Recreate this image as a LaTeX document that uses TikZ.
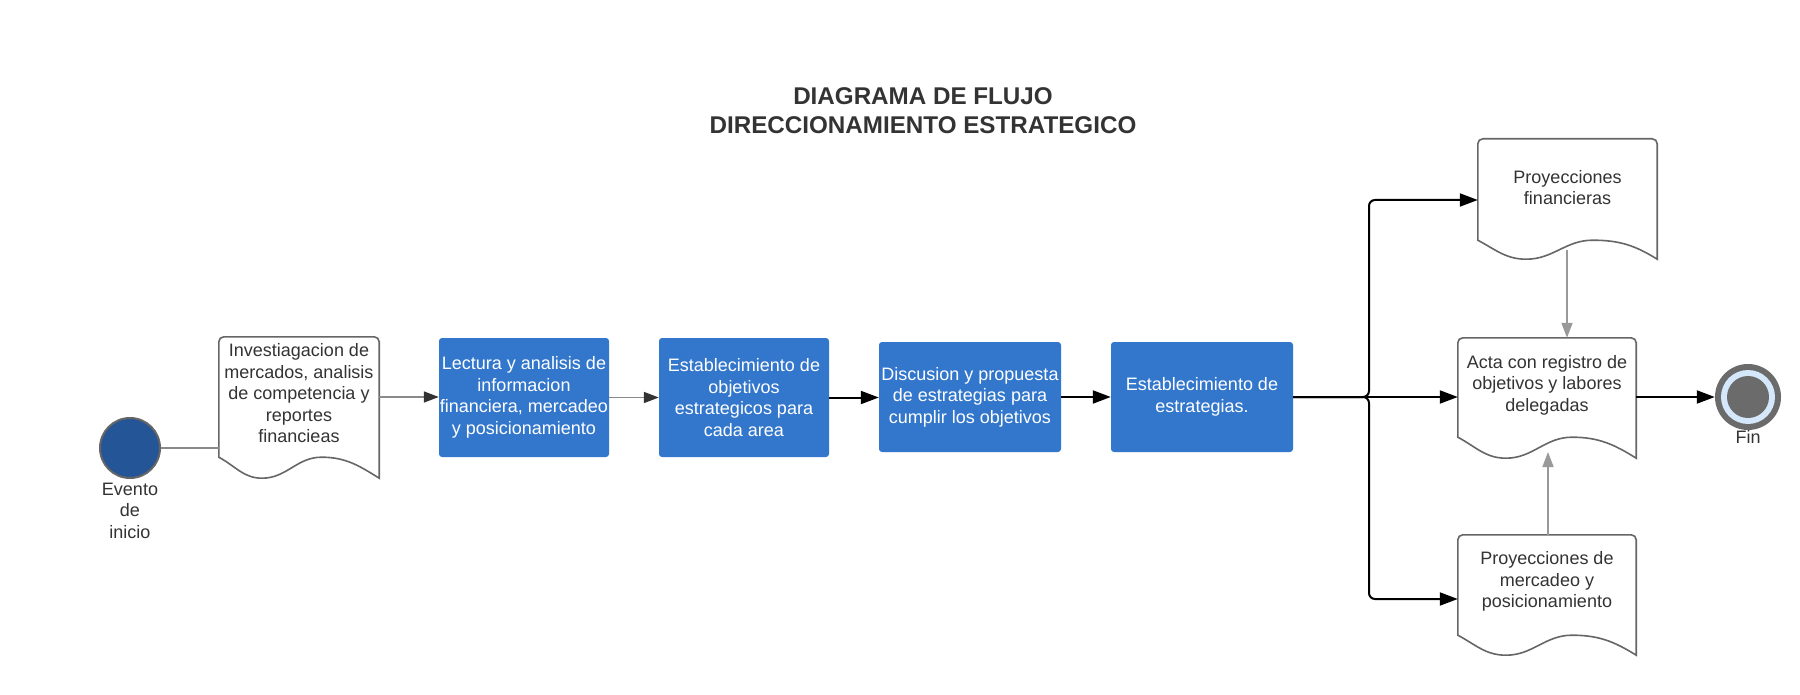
\documentclass[tikz,border=0pt]{standalone}
\usepackage{fontspec}
\setmainfont{Liberation Sans}
\usetikzlibrary{arrows.meta,calc}
\definecolor{boxblue}{HTML}{3377CC}
\definecolor{startblue}{HTML}{245597}
\definecolor{docgray}{HTML}{666666}
\definecolor{linegray}{HTML}{8A8A8A}
\definecolor{tipgray}{HTML}{333333}
\definecolor{txt}{HTML}{333333}
\definecolor{ringgray}{HTML}{6B6B6B}
\definecolor{ringblue}{HTML}{D5E7FB}
\definecolor{uparrow}{HTML}{999999}
\tikzset{
  basefont/.style={font=\fontsize{18}{21.5}\selectfont},
  procbox/.style={basefont, rectangle, rounded corners=3pt, fill=boxblue, text=white,
    align=center, inner sep=0pt},
  docnode/.style={basefont, rectangle, text=txt, align=center, inner sep=0pt},
  docline/.style={draw=docgray, line width=1.6pt, fill=white},
  grayconn/.style={draw=linegray, line width=1.6pt,
    -{Triangle[length=15pt,width=11pt,fill=tipgray,color=tipgray]}},
  blackconn/.style={draw=black, line width=2pt,
    -{Triangle[length=18pt,width=13pt]}},
  upconn/.style={draw=uparrow, line width=1.6pt,
    -{Triangle[length=15pt,width=11pt]}},
  lbl/.style={basefont, text=txt, align=center, inner sep=0pt},
}
\newcommand\docshape[2]{% node name, wave amplitude
  \path[docline] (#1.south west) [rounded corners=5pt] -- (#1.north west) -- (#1.north east)
    [sharp corners] -- ($(#1.south east)+(0,#2)$)
    to[out=148,in=0] ($(#1.south west)!0.64!(#1.south east)$)
    to[out=180,in=0] ($(#1.south west)!0.27!(#1.south east)+(0,#2)$)
    to[out=180,in=-28] (#1.south west) -- cycle;
}
\begin{document}
\begin{tikzpicture}[x=1pt,y=-1pt]
\useasboundingbox[fill=white] (0,0) rectangle (1800,695);

% title
\node[font=\bfseries\fontsize{24.2}{29}\selectfont, text=txt, align=center] (title) at (923,110.5)
  {DIAGRAMA DE FLUJO\\DIRECCIONAMIENTO ESTRATEGICO};

% start event
\node[circle, minimum size=60pt, inner sep=0pt, fill=startblue, draw=docgray, line width=2pt] (start) at (130,448) {};
\node[lbl] (startlbl) at (130,510.5) {Evento\\de\\inicio};

% document 1
\node[docnode, minimum width=160pt, minimum height=120pt] (d1) at (299,397) {};
\docshape{d1}{21}
\node[lbl] (d1t) at (299,393.5) {Investiagacion de\\mercados, analisis\\de competencia y\\reportes\\financieas};

% process boxes
\node[procbox, minimum width=170pt, minimum height=119pt] (b1) at (524,397.5)
  {Lectura y analisis de\\informacion\\financiera, mercadeo\\y posicionamiento};
\node[procbox, minimum width=170pt, minimum height=119pt] (b2) at (744,397.5)
  {Establecimiento de\\objetivos\\estrategicos para\\cada area};
\node[procbox, minimum width=182pt, minimum height=110pt] (b3) at (970,397)
  {Discusion y propuesta\\de estrategias para\\cumplir los objetivos};
\node[procbox, minimum width=182pt, minimum height=110pt] (b4) at (1202,397)
  {Establecimiento de\\estrategias.};

% right documents
\node[docnode, minimum width=179pt, minimum height=101pt] (pf) at (1567.5,189.5) {};
\docshape{pf}{19}
\node[lbl] (pft) at (1567.5,187.5) {Proyecciones\\financieras};

\node[docnode, minimum width=178pt, minimum height=99pt] (acta) at (1547,387.5) {};
\docshape{acta}{21}
\node[lbl] (actat) at (1547,385) {Acta con registro de\\objetivos y labores\\delegadas};

\node[docnode, minimum width=178pt, minimum height=100pt] (pm) at (1547,585) {};
\docshape{pm}{20}
\node[lbl] (pmt) at (1547,581.5) {Proyecciones de\\mercadeo y\\posicionamiento};

% end event
\node[circle, minimum size=66pt, inner sep=0pt, fill=ringgray] (fin) at (1748,397) {};
\fill[ringblue] (fin.center) circle (27);
\fill[ringgray] (fin.center) circle (21);
\node[lbl] (finlbl) at (1748,437) {Fin};

% connectors
\draw[draw=linegray, line width=1.6pt] (start.east) -- (start.east -| d1.west);
\draw[grayconn] (d1.east) -- (d1.east -| b1.west);
\draw[grayconn] (b1.east) -- (b2.west);
\draw[blackconn] (b2.east) -- (b2.east -| b3.west);
\draw[blackconn] (b3.east) -- (b4.west);
\draw[blackconn] (b4.east) -- (b4.east -| acta.west);
\coordinate (split) at (1369,397);
\coordinate (pfin) at ($(pf.west)+(0,10.5)$);
\coordinate (pmin) at ($(pm.west)+(0,14)$);
\draw[blackconn, rounded corners=6pt] (b4.east) -- (split) |- (pfin);
\draw[blackconn, rounded corners=6pt] (b4.east) -- (split) |- (pmin);
\draw[blackconn] (fin.west -| acta.east) -- (fin.west);
\coordinate (pfbot) at (1567,250);
\draw[upconn] (pfbot) -- (pfbot |- acta.north);
\coordinate (actabot) at (1548,452);
\draw[upconn] (pm.north -| actabot) -- (actabot);
\end{tikzpicture}
\end{document}
